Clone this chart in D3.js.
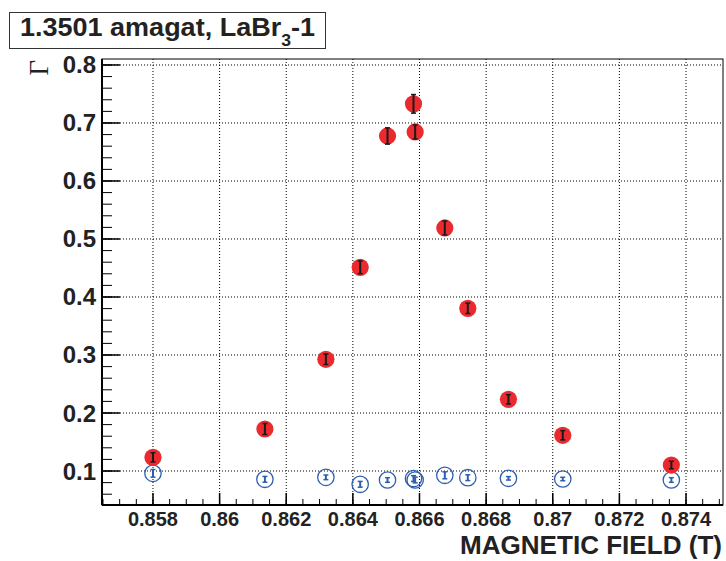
<!DOCTYPE html>
<html><head><meta charset="utf-8">
<script src="https://cdn.jsdelivr.net/npm/d3@7"></script>
<style>body{margin:0;background:#fff}svg{display:block}</style>
</head><body>
<svg id="c" width="726" height="561"></svg>
<script>
const field = [0.8580, 0.86136, 0.86319, 0.86422, 0.86504, 0.86582, 0.86587, 0.86676, 0.86745, 0.86867, 0.87030, 0.87356];
const gammaRed = [0.1236, 0.1724, 0.2926, 0.4512, 0.6776, 0.7330, 0.6845, 0.5190, 0.3805, 0.2236, 0.1616, 0.1103];
const errRed = [0.008, 0.0095, 0.009, 0.011, 0.014, 0.016, 0.012, 0.012, 0.009, 0.008, 0.008, 0.0065];
const gammaBlue = [0.0960, 0.0857, 0.0891, 0.0771, 0.0845, 0.0870, 0.0845, 0.0926, 0.0885, 0.0874, 0.0862, 0.0845];
const errBlue = [0.0066, 0.005, 0.004, 0.005, 0.004, 0.005, 0.005, 0.006, 0.005, 0.003, 0.003, 0.004];
const xTicks = [0.858, 0.860, 0.862, 0.864, 0.866, 0.868, 0.870, 0.872, 0.874];
const xTickLabels = ["0.858", "0.86", "0.862", "0.864", "0.866", "0.868", "0.87", "0.872", "0.874"];
const yTicks = [0.1, 0.2, 0.3, 0.4, 0.5, 0.6, 0.7, 0.8];
const yTickLabels = ["0.1", "0.2", "0.3", "0.4", "0.5", "0.6", "0.7", "0.8"];

const L = 102, R = 723, T = 59, B = 505;
const x = d3.scaleLinear().domain([0.85647, 0.87511]).range([L, R]);
const y = d3.scaleLinear().domain([0.0414, 0.8103]).range([B, T]);
const svg = d3.select("#c");

// grid
const g = svg.append("g");
g.selectAll(".gx").data(xTicks).join("line")
  .attr("x1", d => x(d)).attr("x2", d => x(d)).attr("y1", T).attr("y2", B)
  .attr("stroke", "#000").attr("stroke-width", 1).attr("stroke-dasharray", "1,2");
g.selectAll(".gy").data(yTicks).join("line")
  .attr("x1", L).attr("x2", R).attr("y1", d => y(d)).attr("y2", d => y(d))
  .attr("stroke", "#000").attr("stroke-width", 1).attr("stroke-dasharray", "1,2");

// minor ticks
const xMinor = d3.range(0.8565, 0.87511, 0.0005).filter(v => x(v) >= L && x(v) <= R);
const yMinor = d3.range(0.04, 0.8103, 0.02).filter(v => y(v) <= B && y(v) >= T);
svg.append("g").selectAll("line").data(xMinor).join("line")
  .attr("x1", d => x(d)).attr("x2", d => x(d)).attr("y1", B).attr("y2", B - 6)
  .attr("stroke", "#000").attr("stroke-width", 1);
svg.append("g").selectAll("line").data(xTicks).join("line")
  .attr("x1", d => x(d)).attr("x2", d => x(d)).attr("y1", B).attr("y2", B - 12)
  .attr("stroke", "#000").attr("stroke-width", 1.5);
svg.append("g").selectAll("line").data(yMinor).join("line")
  .attr("x1", L).attr("x2", L + 10).attr("y1", d => y(d)).attr("y2", d => y(d))
  .attr("stroke", "#000").attr("stroke-width", 1);
svg.append("g").selectAll("line").data(yTicks).join("line")
  .attr("x1", L).attr("x2", L + 18).attr("y1", d => y(d)).attr("y2", d => y(d))
  .attr("stroke", "#000").attr("stroke-width", 1.5);

// frame
svg.append("rect").attr("x", L).attr("y", T).attr("width", R - L).attr("height", B - T)
  .attr("fill", "none").attr("stroke", "#000").attr("stroke-width", 1);
svg.append("line").attr("x1", L).attr("x2", L).attr("y1", T).attr("y2", B).attr("stroke", "#000").attr("stroke-width", 2);
svg.append("line").attr("x1", L).attr("x2", R).attr("y1", B).attr("y2", B).attr("stroke", "#000").attr("stroke-width", 2);

// tick labels
const font = "'Liberation Sans', Arial, Helvetica, sans-serif";
svg.append("g").selectAll("text").data(xTicks).join("text")
  .attr("x", d => x(d)).attr("y", 526).attr("text-anchor", "middle")
  .attr("font-family", font).attr("font-weight", "bold").attr("font-size", 20).attr("fill", "#222")
  .text((d, i) => xTickLabels[i]);
svg.append("g").selectAll("text").data(yTicks).join("text")
  .attr("x", 96).attr("y", d => y(d) + 8.5).attr("text-anchor", "end")
  .attr("font-family", font).attr("font-weight", "bold").attr("font-size", 24).attr("fill", "#222")
  .text((d, i) => yTickLabels[i]);

// axis titles
svg.append("text").attr("x", 722).attr("y", 554).attr("text-anchor", "end")
  .attr("font-family", font).attr("font-weight", "bold").attr("font-size", 26).attr("fill", "#222")
  .attr("textLength", 262).attr("lengthAdjust", "spacingAndGlyphs")
  .text("MAGNETIC FIELD (T)");
svg.append("text").attr("transform", "translate(48,60) rotate(-90)").attr("text-anchor", "end")
  .attr("font-family", "'Liberation Serif', 'DejaVu Serif', serif").attr("font-size", 27).attr("fill", "#222")
  .text("Γ");

// title box
svg.append("rect").attr("x", 9.5).attr("y", 12.5).attr("width", 316).attr("height", 36)
  .attr("fill", "#fff").attr("stroke", "#333").attr("stroke-width", 1);
const tt = svg.append("text").attr("x", 20).attr("y", 36)
  .attr("font-family", font).attr("font-weight", "bold").attr("font-size", 26).attr("fill", "#222")
  .attr("textLength", 295).attr("lengthAdjust", "spacingAndGlyphs");
tt.append("tspan").text("1.3501 amagat, LaBr");
tt.append("tspan").attr("dy", 10).attr("font-size", 17).text("3");
tt.append("tspan").attr("dy", -10).text("-1");

// data: blue open circles
const red = "#ea2a2e", blue = "#2d5fb0";
const blueG = svg.append("g");
blueG.selectAll("circle").data(field).join("circle")
  .attr("cx", d => x(d)).attr("cy", (d, i) => y(gammaBlue[i])).attr("r", 8.2)
  .attr("fill", "none").attr("stroke", blue).attr("stroke-width", 1.3);
function errBars(gr, vals, errs, color, w) {
  gr.selectAll(".eb").data(field).join("g").each(function(d, i) {
    const s = d3.select(this), cx = x(d), y1 = y(vals[i] + errs[i]), y2 = y(vals[i] - errs[i]);
    s.append("line").attr("x1", cx).attr("x2", cx).attr("y1", y1).attr("y2", y2).attr("stroke", color).attr("stroke-width", w);
    s.append("line").attr("x1", cx - 2.5).attr("x2", cx + 2.5).attr("y1", y1).attr("y2", y1).attr("stroke", color).attr("stroke-width", 1.5);
    s.append("line").attr("x1", cx - 2.5).attr("x2", cx + 2.5).attr("y1", y2).attr("y2", y2).attr("stroke", color).attr("stroke-width", 1.5);
  });
}
errBars(blueG, gammaBlue, errBlue, blue, 2);

const redG = svg.append("g");
redG.selectAll("circle").data(field).join("circle")
  .attr("cx", d => x(d)).attr("cy", (d, i) => y(gammaRed[i])).attr("r", 8.6)
  .attr("fill", red);
errBars(redG, gammaRed, errRed, "#1a1a1a", 2);
</script>
</body></html>
